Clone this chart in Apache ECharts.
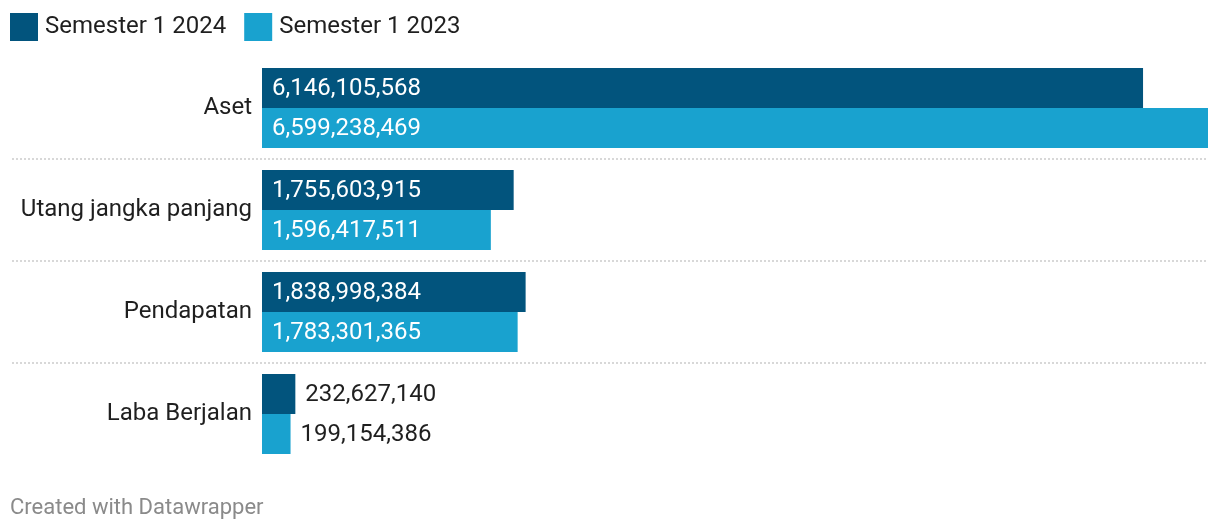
<!DOCTYPE html>
<html><head><meta charset="utf-8">
<script src="https://cdn.jsdelivr.net/npm/echarts@6/dist/echarts.min.js"></script>
<style>html,body{margin:0;padding:0;background:#fff}#c{width:1220px;height:532px}</style>
</head><body><div id="c"></div>
<script>
const categories = ['Aset', 'Utang jangka panjang', 'Pendapatan', 'Laba Berjalan'];
const seriesNames = ['Semester 1 2024', 'Semester 1 2023'];
const values2024 = [6146105568, 1755603915, 1838998384, 232627140];
const values2023 = [6599238469, 1596417511, 1783301365, 199154386];
const colors = ['#02547d', '#19a2cf'];
const footerText = 'Created with Datawrapper';

const FONT = 'Roboto';
const FS = 24;
const maxVal = Math.max(...values2024, ...values2023);
const fmt = v => v.toLocaleString('en-US');
function withLabels(arr) {
  return arr.map(v => {
    const small = v / maxVal < 0.12;
    return {
      value: v,
      label: small
        ? { position: 'right', distance: 10, color: '#1f1f1f' }
        : { position: 'insideLeft', distance: 10, color: '#ffffff' }
    };
  });
}
const chart = echarts.init(document.getElementById('c'), null, { renderer: 'canvas' });
chart.setOption({
  animation: false,
  backgroundColor: '#ffffff',
  textStyle: { fontFamily: FONT },
  title: {
    text: footerText, left: 10, top: 497, padding: 0,
    textStyle: { fontFamily: FONT, fontSize: 22, fontWeight: 'normal', color: '#8a8a8a' }
  },
  legend: {
    left: 10, top: 13, padding: 0, itemWidth: 28, itemHeight: 28, itemGap: 18, icon: 'rect',
    data: seriesNames,
    textStyle: { fontFamily: FONT, fontSize: FS, color: '#1f1f1f', padding: [0, 0, 0, 2] }
  },
  grid: [
    { left: 12, right: 12, top: 57, height: 408 },
    { left: 262, right: 12, top: 57, height: 408 }
  ],
  xAxis: [
    { gridIndex: 0, type: 'value', show: false },
    { gridIndex: 1, type: 'value', min: 0, max: maxVal, show: false }
  ],
  yAxis: [
    {
      gridIndex: 0, type: 'category', data: categories, inverse: true,
      axisLine: { show: false }, axisTick: { show: false }, axisLabel: { show: false },
      splitLine: { show: true, interval: 0, showMinLine: false, showMaxLine: false,
        lineStyle: { color: '#cccccc', type: [2, 2], width: 1.5 } }
    },
    {
      gridIndex: 1, type: 'category', data: categories, inverse: true,
      axisLine: { show: false }, axisTick: { show: false }, splitLine: { show: false },
      axisLabel: { margin: 10, fontFamily: FONT, fontSize: FS, color: '#1f1f1f', padding: [2, 0, 0, 0] }
    }
  ],
  series: [
    {
      name: seriesNames[0], type: 'bar', xAxisIndex: 1, yAxisIndex: 1,
      data: withLabels(values2024), barWidth: 40, barGap: '0%',
      itemStyle: { color: colors[0] },
      label: { show: true, fontFamily: FONT, fontSize: FS, offset: [0, 1], formatter: p => fmt(p.value) }
    },
    {
      name: seriesNames[1], type: 'bar', xAxisIndex: 1, yAxisIndex: 1,
      data: withLabels(values2023), barWidth: 40, barGap: '0%',
      itemStyle: { color: colors[1] },
      label: { show: true, fontFamily: FONT, fontSize: FS, offset: [0, 1], formatter: p => fmt(p.value) }
    }
  ]
});
</script></body></html>
